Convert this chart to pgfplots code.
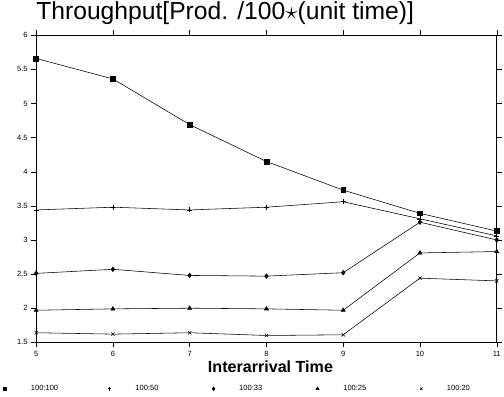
\documentclass[border=0pt]{standalone}
\usepackage{pgfplots}
\pgfplotsset{compat=1.18}
\usepackage{fontspec}
\setmainfont{Liberation Sans}
\begin{document}
\begin{tikzpicture}
\begin{axis}[
  scale only axis,
  width=456bp, height=304bp,
  xmin=5, xmax=11, ymin=1.5, ymax=6,
  xtick={5,6,7,8,9,10,11},
  ytick={1.5,2,2.5,3,3.5,4,4.5,5,5.5,6},
  yticklabel style={/pgf/number format/fixed},
  /pgf/number format/assume math mode=true,
  tick label style={font=\fontsize{7.5}{8}\selectfont},
  tick align=outside,
  tick style={black, thin},
  major tick length=5bp,
  axis x line*=box, axis y line*=box,
  x axis line style={gray, line width=0.7pt},
  y axis line style={black, line width=1pt},
  title={Throughput[Prod. /100$\star$(unit time)]},
  title style={at={(axis description cs:0,1)}, anchor=south west, font=\fontsize{24.5}{27}\selectfont, inner sep=2pt, xshift=-2bp, yshift=2bp},
  xlabel={\textbf{Interarrival Time}},
  xlabel style={font=\fontsize{16}{18}\selectfont, yshift=2pt, xshift=4bp},
  legend columns=5,
  legend style={draw=none, at={(axis description cs:0,0)}, anchor=west, xshift=-36bp, yshift=-46bp,
    font=\fontsize{7.5}{8}\selectfont,
    /tikz/every even column/.append style={column sep=14bp},
    /tikz/every odd column/.append style={column sep=22bp}},
  legend image code/.code={\draw[#1, draw=none, mark size=1.8pt] plot coordinates {(0cm,0cm)};},
  every axis plot/.append style={black, line width=0.55pt},
]
\addplot[mark=square*, mark size=2.4pt] coordinates {(5,5.66) (6,5.36) (7,4.69) (8,4.15) (9,3.73) (10,3.39) (11,3.13)};
\addlegendentry{\makebox[60bp][l]{100:100}}
\addplot[mark=+, mark size=2.5pt] coordinates {(5,3.44) (6,3.48) (7,3.44) (8,3.48) (9,3.56) (10,3.31) (11,3.06)};
\addlegendentry{\makebox[60bp][l]{100:50}}
\addplot[mark=diamond*, mark size=2.3pt] coordinates {(5,2.51) (6,2.57) (7,2.48) (8,2.47) (9,2.52) (10,3.26) (11,3.00)};
\addlegendentry{\makebox[60bp][l]{100:33}}
\addplot[mark=triangle*, mark size=2.3pt] coordinates {(5,1.97) (6,1.99) (7,2.00) (8,1.99) (9,1.97) (10,2.81) (11,2.83)};
\addlegendentry{\makebox[60bp][l]{100:25}}
\addplot[mark=x, mark size=2.3pt] coordinates {(5,1.64) (6,1.62) (7,1.64) (8,1.60) (9,1.61) (10,2.44) (11,2.40)};
\addlegendentry{100:20}
\end{axis}
\end{tikzpicture}
\end{document}
